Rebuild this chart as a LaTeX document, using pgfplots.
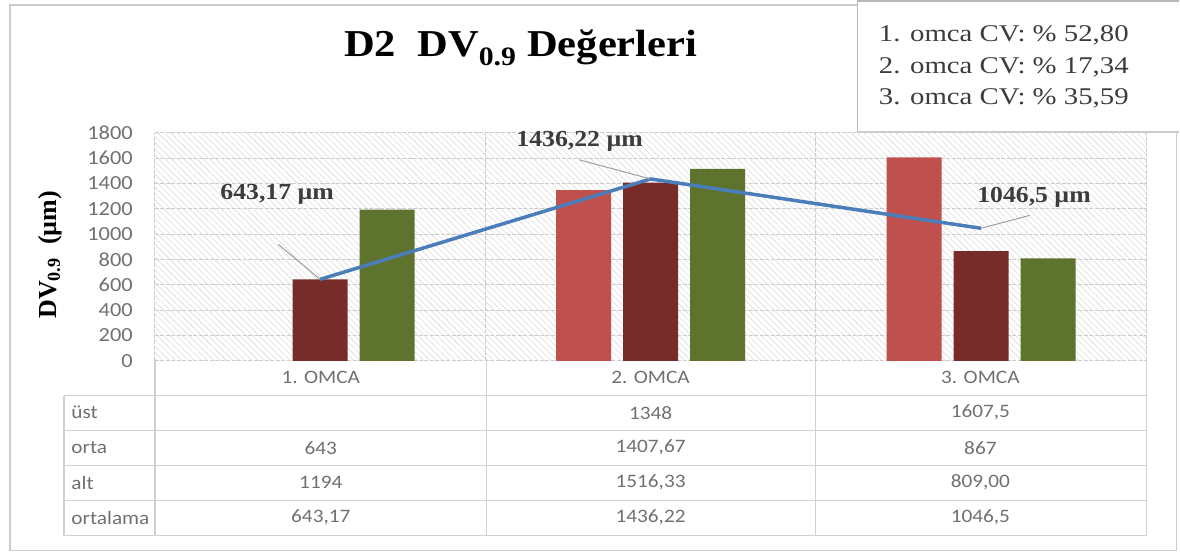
\documentclass[border=0pt]{standalone}
\usepackage{pgfplots}
\pgfplotsset{compat=1.18}
\usepackage{fontspec}
\setmainfont{Liberation Serif}
\newfontfamily\calfont{Carlito}
\usetikzlibrary{patterns.meta}
\definecolor{cUst}{RGB}{192,80,77}
\definecolor{cOrta}{RGB}{119,44,42}
\definecolor{cAlt}{RGB}{94,116,46}
\definecolor{cLine}{RGB}{74,126,187}
\definecolor{tgray}{RGB}{112,112,112}
\definecolor{lgray}{RGB}{60,60,60}
\newcommand\sx[1]{\scalebox{1.12}[1]{#1}}
\newcommand\tabfont{\calfont\fontsize{19bp}{22bp}\selectfont\color{tgray}}
\newcommand\labfont{\fontsize{23bp}{25bp}\selectfont\bfseries\color{lgray}}
\begin{document}
\begin{tikzpicture}[x=1bp,y=1bp]
\path (0,0) rectangle (1180,554);
\draw[gray!40, line width=1.5bp] (10,3) rectangle (1177,549);
% title
\node at (521,506) {\fontsize{38bp}{40bp}\selectfont\bfseries\sx{D2\ \ DV\textsubscript{0.9} Değerleri}};
% y label
\node[rotate=90] at (50,299) {\fontsize{26bp}{28bp}\selectfont\bfseries DV\textsubscript{0.9}\ \ (µm)};
\begin{axis}[
  at={(155bp,193bp)}, anchor=south west,
  width=992bp, height=228bp, scale only axis,
  xmin=-0.5, xmax=2.5, ymin=0, ymax=1800,
  ytick={0,200,...,1800},
  xtick={-0.5,0.5,1.5,2.5}, xticklabels={},
  ymajorgrids, xmajorgrids,
  major grid style={gray!40, line width=0.9bp, dash pattern=on 4bp off 1.5bp},
  axis line style={draw=none}, major tick length=0pt,
  clip=false,
  axis background/.style={pattern={Lines[angle=-45,distance=4.5bp,line width=0.6bp]}, pattern color=gray!28},
  /pgf/number format/1000 sep={},
  /pgf/number format/assume math mode=true,
  yticklabel={\sx{\pgfmathprintnumber{\tick}}},
  yticklabel style={font=\calfont\fontsize{20bp}{22bp}\selectfont, text=tgray, anchor=east, inner sep=0pt, xshift=-22bp},
]
\addplot[ybar, bar width=55bp, bar shift=-67bp, fill=cUst, draw=none] coordinates {(1,1348) (2,1607.5)};
\addplot[ybar, bar width=55bp, bar shift=0bp, fill=cOrta, draw=none] coordinates {(0,643) (1,1407.67) (2,867)};
\addplot[ybar, bar width=55bp, bar shift=67bp, fill=cAlt, draw=none] coordinates {(0,1194) (1,1516.33) (2,809)};
\addplot[cLine, line width=3.5bp, mark=none, sharp plot] coordinates {(0,643.17) (1,1436.22) (2,1046.5)};
\draw[gray!75, line width=1bp] (axis cs:0,643.17) -- ++(-42bp,35bp);
\node[font=\labfont, xshift=-43bp, yshift=85bp] at (axis cs:0,643.17) {\sx{643,17 µm}};
\draw[gray!75, line width=1bp] (axis cs:1,1436.22) -- ++(-71bp,19bp);
\node[font=\labfont, xshift=-71bp, yshift=38bp] at (axis cs:1,1436.22) {\sx{1436,22 µm}};
\draw[gray!75, line width=1bp] (axis cs:2,1046.5) -- ++(49bp,13bp);
\node[font=\labfont, xshift=53bp, yshift=31bp] at (axis cs:2,1046.5) {\sx{1046,5 µm}};
\end{axis}
% data table
\begin{scope}[gray!35, line width=1.2bp]
\foreach \xx in {155,487,816,1147} {\draw (\xx,193) -- (\xx,18);}
\draw (64,158) -- (64,18);
\foreach \yy in {158,123,88,53,18} {\draw (64,\yy) -- (1147,\yy);}
\end{scope}
\node[font=\tabfont] at (321,176) {\sx{1. OMCA}};
\node[font=\tabfont] at (651,176) {\sx{2. OMCA}};
\node[font=\tabfont] at (981,176) {\sx{3. OMCA}};
\foreach \lab/\yy in {üst/141, orta/106, alt/71, ortalama/36}
  {\node[font=\tabfont, anchor=west] at (68,\yy) {\sx{\lab}};}
\node[font=\tabfont] at (651,141) {\sx{1348}};
\node[font=\tabfont] at (981,141) {\sx{1607,5}};
\node[font=\tabfont] at (321,106) {\sx{643}};
\node[font=\tabfont] at (651,106) {\sx{1407,67}};
\node[font=\tabfont] at (981,106) {\sx{867}};
\node[font=\tabfont] at (321,71) {\sx{1194}};
\node[font=\tabfont] at (651,71) {\sx{1516,33}};
\node[font=\tabfont] at (981,71) {\sx{809,00}};
\node[font=\tabfont] at (321,36) {\sx{643,17}};
\node[font=\tabfont] at (651,36) {\sx{1436,22}};
\node[font=\tabfont] at (981,36) {\sx{1046,5}};
% CV box
\fill[white] (858,422) rectangle (1180,553);
\draw[gray!55, line width=1.5bp] (858,422) -- (858,553) -- (1180,553);
\draw[gray!40, line width=1.2bp] (858,422) -- (1180,422);
\begin{scope}[every node/.style={anchor=west, font=\fontsize{24bp}{26bp}\selectfont\color{lgray}}]
\node at (876,519) {\scalebox{1.2}[1]{1. omca CV: \% 52,80}};
\node at (876,487) {\scalebox{1.2}[1]{2. omca CV: \% 17,34}};
\node at (876,456) {\scalebox{1.2}[1]{3. omca CV: \% 35,59}};
\end{scope}
\end{tikzpicture}
\end{document}
